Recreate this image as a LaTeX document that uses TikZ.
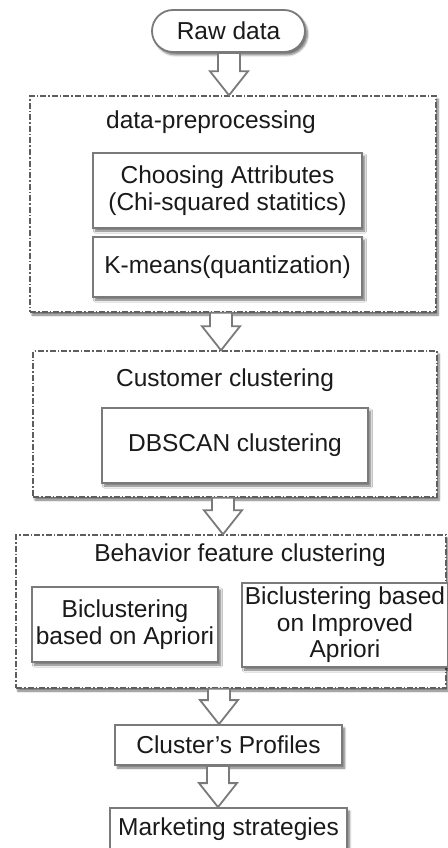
\documentclass[tikz,border=0pt]{standalone}
\usepackage{fontspec}
\setmainfont{Liberation Sans}
\usetikzlibrary{calc,shapes.misc,shadows.blur}

\definecolor{edgegray}{HTML}{7A7A7A}
\definecolor{framegray}{HTML}{5E5E5E}
\definecolor{inkgray}{HTML}{1A1A1A}

\tikzset{
  every node/.style={text=inkgray, font=\fontsize{24.5}{26.5}\selectfont},
  stepbox/.style={draw=edgegray, line width=1.8pt, fill=white, rectangle,
    inner sep=0pt, align=center,
    blur shadow={shadow xshift=2.5pt, shadow yshift=-3pt, shadow blur steps=6, shadow opacity=55}},
  startbox/.style={stepbox, rounded rectangle},
  stageframe/.style={draw=framegray, line width=1.4pt, fill=white, rectangle, inner sep=0pt,
    dash pattern=on 6pt off 2pt on 1.5pt off 2pt,
    blur shadow={shadow xshift=2pt, shadow yshift=-3pt, shadow blur steps=6, shadow opacity=55}},
  stagetitle/.style={inner sep=0pt},
  flowarrow/.style={draw=edgegray, line width=1.8pt, fill=white, line join=miter}
}

% hollow block arrow: #1 = x of the arrow axis, #2 = source anchor, #3 = target anchor
\newcommand{\flowarrow}[3]{%
  \draw[flowarrow] let \p1=(#2), \p2=(#3) in
    (#1pt-11pt,\y1) -- (#1pt-11pt,\y2+24pt) -- (#1pt-19pt,\y2+24pt) -- (#1pt,\y2)
    -- (#1pt+19pt,\y2+24pt) -- (#1pt+11pt,\y2+24pt) -- (#1pt+11pt,\y1) -- cycle;}

\begin{document}
\begin{tikzpicture}[x=1pt,y=-1pt]
\useasboundingbox (0,0) rectangle (447,848);

% start
\node[startbox, minimum width=153pt, minimum height=42pt] (raw) at (228.5,31) {Raw data};

% stage 1: preprocessing
\node[stageframe, minimum width=406pt, minimum height=216pt] (pre) at (233,204) {};
\node[stagetitle] (pretitle) at (211,122) {data-preprocessing};
\node[stepbox, minimum width=269pt, minimum height=75pt] (choose) at (227.5,190.5)
  {Choosing Attributes\\(Chi-squared statitics)};
\node[stepbox, minimum width=269pt, minimum height=60pt] (kmeans) at (227.5,267)
  {K-means(quantization)};

% stage 2: customer clustering
\node[stageframe, minimum width=404pt, minimum height=146pt] (cust) at (235,424) {};
\node[stagetitle] (custtitle) at (225,380) {Customer clustering};
\node[stepbox, minimum width=266pt, minimum height=75pt] (dbscan) at (235,445.5)
  {DBSCAN clustering};

% stage 3: behaviour feature clustering
\node[stageframe, minimum width=430pt, minimum height=153pt] (beh) at (231,611.5) {};
\node[stagetitle] (behtitle) at (240,555) {Behavior feature clustering};
\node[stepbox, minimum width=186pt, minimum height=75pt] (bicA) at (125,624.5)
  {Biclustering\\based on Apriori};
\node[stepbox, minimum width=206pt, minimum height=84pt] (bicB) at (345,625)
  {Biclustering based\\on Improved\\Apriori};

% results
\node[stepbox, minimum width=227pt, minimum height=40pt] (prof) at (228.5,745)
  {Cluster\char39\relax s Profiles};
\node[stepbox, minimum width=237pt, minimum height=42pt] (mkt) at (228.5,829)
  {Marketing strategies};

% connectors
\flowarrow{229}{raw.south}{pre.north}
\flowarrow{221}{pre.south}{cust.north}
\flowarrow{223}{cust.south}{beh.north}
\flowarrow{219}{beh.south}{prof.north}
\flowarrow{218}{prof.south}{mkt.north}
\end{tikzpicture}
\end{document}
